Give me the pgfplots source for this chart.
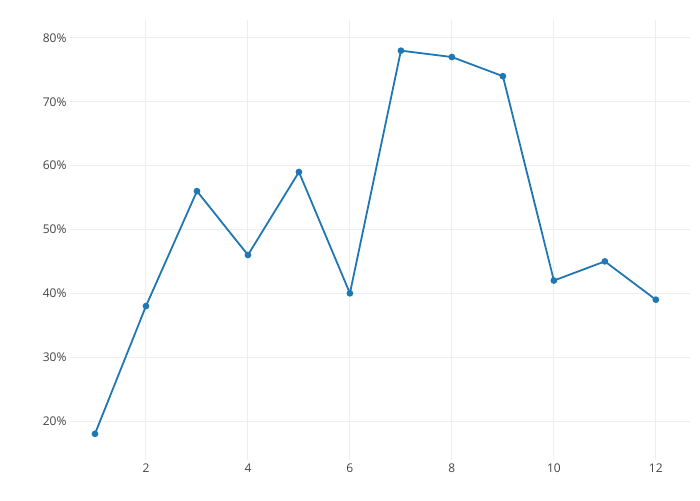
\documentclass[border=0pt]{standalone}
\usepackage{pgfplots}
\pgfplotsset{compat=1.18}
\usepackage{fontspec}
\setmainfont{Open Sans}
\definecolor{line}{HTML}{1F77B4}
\definecolor{gridc}{HTML}{EEEEEE}
\definecolor{tickc}{HTML}{444444}
\begin{document}
\begin{tikzpicture}
\begin{axis}[
  name=ax,
  scale only axis,
  width=620pt, height=440pt,
  xmin=0.51, xmax=12.67,
  ymin=13.9, ymax=82.8,
  xtick={2,4,6,8,10,12},
  ytick={20,30,40,50,60,70,80},
  yticklabel={\pgfmathprintnumber{\tick}\%},
  /pgf/number format/assume math mode=true,
  tick label style={font=\fontsize{12}{14}\selectfont, text=tickc},
  xmajorgrids, ymajorgrids,
  major grid style={gridc, line width=1pt},
  axis line style={draw=none},
  major tick length=0pt,
  clip=false,
]
\addplot[color=line, line width=1.8pt, mark=*, mark size=2.4pt, mark options={fill=line, draw=line}]
coordinates {(1,18)(2,38)(3,56)(4,46)(5,59)(6,40)(7,78)(8,77)(9,74)(10,42)(11,45)(12,39)};
\end{axis}
\path ([shift={(-70pt,-40pt)}]ax.south west) rectangle ([shift={(10pt,20pt)}]ax.north east);
\end{tikzpicture}
\end{document}
